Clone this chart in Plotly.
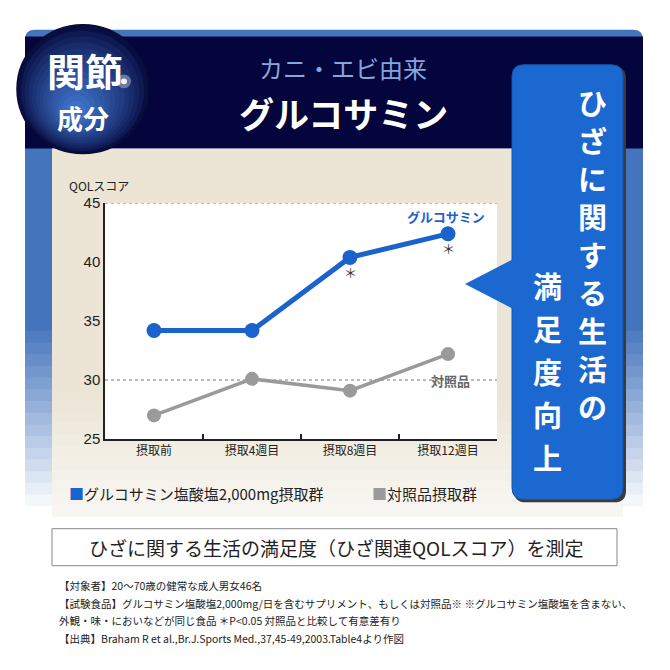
import plotly.graph_objects as go

# chart data
categories = ["摂取前", "摂取4週目", "摂取8週目", "摂取12週目"]
glucosamine = [34.2, 34.2, 40.4, 42.4]
control = [27.0, 30.1, 29.1, 32.2]
significant = [False, False, True, True]
y_ticks = [25, 30, 35, 40, 45]
dotted_levels = [30, 45]

# texts
badge_top = "関節"
badge_bottom = "成分"
title_small = "カニ・エビ由来"
title_big = "グルコサミン"
callout_col1 = "ひざに関する生活の"
callout_col2 = "満足度向上"
y_title = "QOLスコア"
series_labels = ["グルコサミン", "対照品"]
legend_labels = ["グルコサミン塩酸塩2,000mg摂取群", "対照品摂取群"]
caption = "ひざに関する生活の満足度（ひざ関連QOLスコア）を測定"
notes = [
    "【対象者】20～70歳の健常な成人男女46名",
    "【試験食品】グルコサミン塩酸塩2,000mg/日を含むサプリメント、もしくは対照品※ ※グルコサミン塩酸塩を含まない、",
    "外観・味・においなどが同じ食品 ＊P&lt;0.05 対照品と比較して有意差有り",
    "【出典】Braham R et al.,Br.J.Sports Med.,37,45-49,2003.Table4より作図",
]

W = H = 670
OFF = 8  # the page body margin shifts the figure by 8px
BLUE = "#1a62cc"
GRAY = "#9a9a9a"
NAVY = "#04053c"
CJK = "Noto Sans CJK JP"


def px(x):
    return (x - OFF) / W


def py(y):
    return 1 - (y - OFF) / H


def hex2rgb(c):
    c = c.lstrip("#")
    return [int(c[i:i + 2], 16) for i in (0, 2, 4)]


def mix(c1, c2, t):
    a, b = hex2rgb(c1), hex2rgb(c2)
    return "rgb(%d,%d,%d)" % tuple(round(a[i] + (b[i] - a[i]) * t) for i in range(3))


def rect(x0, y0, x1, y1, color, line=None):
    return dict(type="rect", xref="paper", yref="paper", layer="below",
                x0=px(x0), x1=px(x1), y0=py(y1), y1=py(y0),
                fillcolor=color, line=line or dict(width=0))


def rounded(x0, y0, x1, y1, r, color, line=None):
    p = (f"M {px(x0 + r)},{py(y0)} L {px(x1 - r)},{py(y0)} Q {px(x1)},{py(y0)} {px(x1)},{py(y0 + r)} "
         f"L {px(x1)},{py(y1 - r)} Q {px(x1)},{py(y1)} {px(x1 - r)},{py(y1)} "
         f"L {px(x0 + r)},{py(y1)} Q {px(x0)},{py(y1)} {px(x0)},{py(y1 - r)} "
         f"L {px(x0)},{py(y0 + r)} Q {px(x0)},{py(y0)} {px(x0 + r)},{py(y0)} Z")
    return dict(type="path", xref="paper", yref="paper", layer="below", path=p,
                fillcolor=color, line=line or dict(width=0))


def circle(cx, cy, r, color, line=None):
    return dict(type="circle", xref="paper", yref="paper", layer="below",
                x0=px(cx - r), x1=px(cx + r), y0=py(cy + r), y1=py(cy - r),
                fillcolor=color, line=line or dict(width=0))


def text(x, y, s, size, color="#222", family=CJK, xanchor="center", bold=False):
    if bold:
        s = "<b>" + s + "</b>"
    return dict(xref="paper", yref="paper", x=px(x), y=py(y), text=s, showarrow=False,
                xanchor=xanchor, yanchor="middle",
                font=dict(size=size, color=color, family=family))


shapes = []
# outer panel with fade at the bottom
shapes.append(rounded(25, 21, 643, 340, 10, "#4474bc"))
n = 16
for i in range(n):
    y0 = 330 + i * 12
    shapes.append(rect(25, y0, 643, y0 + 13, mix("#4474bc", "#ffffff", (i + 1) / n)))
# header band
shapes.append(rect(25, 28, 643, 143, NAVY))
# beige content area
shapes.append(rect(52, 143, 623, 400, "#ece5d6"))
for i in range(10):
    y0 = 400 + i * 12
    shapes.append(rect(52, y0, 623, y0 + 13, mix("#ece5d6", "#f8f6f2", (i + 1) / 10)))
# plot area
shapes.append(rect(105, 199, 497, 441, "#ffffff"))
for lv in dotted_levels:
    shapes.append(dict(type="line", xref="paper", yref="y", layer="below",
                       x0=px(105), x1=px(497), y0=lv, y1=lv,
                       line=dict(color="#777", width=1, dash="dot")))
# callout
shapes.append(rounded(514, 59, 626, 506, 12, "#3a3a3a"))
shapes.append(rounded(512, 57, 623, 503, 12, "#1b68d0", dict(color="#1454b0", width=1)))
shapes.append(dict(type="path", xref="paper", yref="paper", layer="below",
                   path=f"M {px(465)},{py(282)} L {px(514)},{py(256)} L {px(514)},{py(308)} Z",
                   fillcolor="#1b68d0", line=dict(width=0)))
# badge
m = 14
for i in range(m):
    t = i / (m - 1)
    r = 66 * (1 - t) + 10 * t
    cx = 83 * (1 - t) + 76 * t
    cy = 82 * (1 - t) + 104 * t
    shapes.append(circle(cx, cy, r, mix("#080d42", "#3c70c6", t ** 0.8)))
shapes.append(circle(83, 82, 66, "rgba(0,0,0,0)", dict(color="#070b33", width=1.5)))
shapes.append(circle(124, 74, 7, "rgba(255,255,255,0.35)"))
shapes.append(circle(124, 74, 3, "rgba(255,255,255,0.9)"))
# caption box
shapes.append(rect(52, 533, 617, 571, "#ffffff", dict(color="#888", width=1)))

annotations = [
    text(85, 62, badge_top, 38, "white", bold=True),
    text(83, 111, badge_bottom, 26, "white", bold=True),
    text(343, 60, title_small, 24, "#86a6dc"),
    text(343, 106, title_big, 35, "white", bold=True),
    text(67, 181, y_title, 12, "#222", xanchor="left"),
    text(336, 552, caption, 19, "#222"),
]
for k, ch in enumerate(callout_col1):
    annotations.append(text(592, 95 + k * 39, ch, 29, "white", bold=True))
for k, ch in enumerate(callout_col2):
    annotations.append(text(547, 283 + k * 44, ch, 29, "white", bold=True))

# legend
annotations.append(text(67, 497, f'<span style="color:{BLUE}">■</span>' + legend_labels[0],
                        15, "#222", xanchor="left"))
annotations.append(text(370, 497, f'<span style="color:{GRAY}">■</span>' + legend_labels[1],
                        15, "#222", xanchor="left"))

# footnotes
for k, line in enumerate(notes):
    annotations.append(text(57, 591 + k * 18.3, line, 10.5, "#222", xanchor="left"))

# series labels and significance marks
annotations.append(dict(x=categories[-1], y=glucosamine[-1], xref="x", yref="y",
                        text="<b>" + series_labels[0] + "</b>", showarrow=False,
                        yshift=17, xshift=-2, font=dict(size=13, color=BLUE, family=CJK)))
annotations.append(dict(x=categories[-1], y=control[-1], xref="x", yref="y",
                        text="<b>" + series_labels[1] + "</b>", showarrow=False,
                        yshift=-26, xshift=2, font=dict(size=13, color="#666", family=CJK)))
for c, v, s in zip(categories, glucosamine, significant):
    if s:
        annotations.append(dict(x=c, y=v, xref="x", yref="y", text="＊", showarrow=False,
                                yshift=-15, font=dict(size=13, color="#333", family=CJK)))

fig = go.Figure()
fig.add_trace(go.Scatter(x=categories, y=control, mode="lines+markers",
                         line=dict(color=GRAY, width=3.5), marker=dict(size=14, color=GRAY),
                         showlegend=False))
fig.add_trace(go.Scatter(x=categories, y=glucosamine, mode="lines+markers",
                         line=dict(color=BLUE, width=5), marker=dict(size=15, color=BLUE),
                         showlegend=False))

fig.update_layout(
    width=W, height=H,
    margin=dict(l=0, r=0, t=0, b=0),
    paper_bgcolor="white",
    plot_bgcolor="rgba(0,0,0,0)",
    shapes=shapes,
    annotations=annotations,
    xaxis=dict(domain=[px(105), px(497)], type="category", categoryorder="array",
               categoryarray=categories, range=[-0.5, 3.5], showline=True,
               linecolor="#222", linewidth=2, ticks="inside", tickson="boundaries",
               ticklen=5, tickwidth=1.5, tickcolor="#222", showgrid=False, zeroline=False,
               tickfont=dict(size=12, color="#222", family=CJK), fixedrange=True),
    yaxis=dict(domain=[py(441), py(199)], range=[25, 45], tickvals=y_ticks,
               showline=True, linecolor="#222", linewidth=1.5, ticks="",
               showgrid=False, zeroline=False,
               tickfont=dict(size=15, color="#222", family="Liberation Sans"),
               fixedrange=True),
)

fig.write_html("out.html")
